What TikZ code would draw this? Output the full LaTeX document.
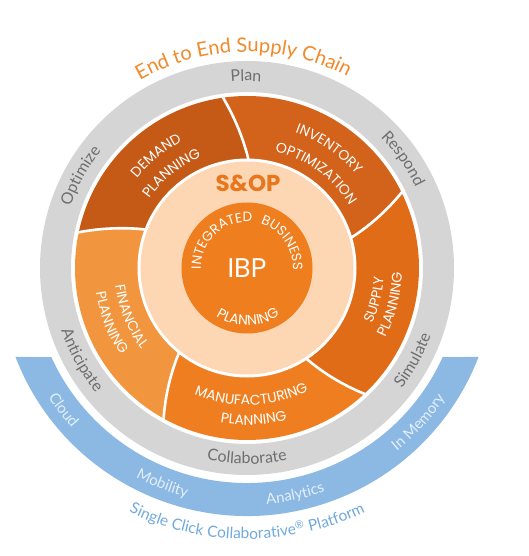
\documentclass[tikz,border=0pt]{standalone}
\usepackage{fontspec}
\setmainfont{Lato}
\newfontfamily\pop{Poppins}
\usetikzlibrary{decorations.text}
\definecolor{greyring}{HTML}{D5D5D5}
\definecolor{greytxt}{HTML}{6E6E6E}
\definecolor{demandc}{HTML}{C55A17}
\definecolor{invc}{HTML}{D3621A}
\definecolor{supplyc}{HTML}{E06C18}
\definecolor{manufc}{HTML}{EE7E1F}
\definecolor{finc}{HTML}{F1963F}
\definecolor{peach}{HTML}{FDD6B3}
\definecolor{ibpc}{HTML}{EE7E1E}
\definecolor{sopc}{HTML}{E8761D}
\definecolor{e2ec}{HTML}{F08A2B}
\definecolor{bandc}{HTML}{8BB9E3}
\definecolor{bandtxt}{HTML}{E4EFFA}
\definecolor{platc}{HTML}{70A9DD}
\newcommand\myfs[1]{\fontsize{#1}{#1}\selectfont}
\newcommand\cwtext[6]{%
  \path[decorate,decoration={text along path,text align=center,text color=#1,text={|#2|#6}}]
    ({#3+#5}:#4pt) arc[start angle={#3+#5}, end angle={#3-#5}, radius=#4pt];}
\newcommand\ccwtext[6]{%
  \path[decorate,decoration={text along path,text align=center,text color=#1,text={|#2|#6}}]
    ({#3-#5}:#4pt) arc[start angle={#3-#5}, end angle={#3+#5}, radius=#4pt];}
\newcommand\seg[5]{%
  \fill[#1] plot[variable=\t,domain=0:1,samples=12] ({#2+#3*\t}:{107+65*\t})
    arc[start angle={#2+#3}, end angle={#4+#5}, radius=172pt]
    -- plot[variable=\t,domain=0:1,samples=12] ({#4+#5-#5*\t}:{172-65*\t})
    -- (0,0) -- cycle;}
\begin{document}
\begin{tikzpicture}[x=1pt,y=1pt]
\useasboundingbox (-247,-288) rectangle (282,268);
% platform band
\fill[bandc] (201:248pt) arc[start angle=201,end angle=339,radius=248pt]
  -- (335.5:215pt) arc[start angle=335.5,end angle=204.5,radius=215pt] -- cycle;
% grey ring
\fill[greyring, even odd rule] (0,0) circle[radius=207pt] (0,0) circle[radius=176pt];
% segments
\seg{supplyc}{-57}{10}{16}{10}
\seg{invc}{16}{10}{89}{9}
\seg{demandc}{89}{9}{159}{9}
\seg{finc}{159}{9}{231}{10}
\seg{manufc}{231}{10}{303}{10}
\foreach \a/\d in {-57/10,16/10,89/9,159/9,231/10}
  \draw[white,line width=2.6pt] plot[variable=\t,domain=-0.15:1.04,samples=14] ({\a+\d*\t}:{107+65*\t});
% S&OP ring and IBP core
\fill[white] (0,0) circle[radius=109.5pt];
\fill[peach] (0,0) circle[radius=106.5pt];
\fill[ibpc] (0,0) circle[radius=65.5pt];
\node[font=\pop\myfs{27}, text=white, inner sep=0] (ibp) at (0,0) {IBP};
\node[font=\pop\bfseries\myfs{23}, text=sopc, inner sep=0] (sop) at (1,85) {S\&OP};
\cwtext{white}{\pop\myfs{13.5}}{132.5}{46}{80}{INTEGRATED}
\cwtext{white}{\pop\myfs{13.5}}{35}{46}{80}{BUSINESS}
\ccwtext{white}{\pop\myfs{14}}{-89}{57.5}{70}{PLANNING}
% segment labels
\cwtext{white}{\pop\myfs{14}}{129}{142}{40}{DEMAND}
\cwtext{white}{\pop\myfs{14}}{128.5}{120}{40}{PLANNING}
\cwtext{white}{\pop\myfs{14}}{55.5}{144}{40}{INVENTORY}
\cwtext{white}{\pop\myfs{14}}{54}{120}{45}{OPTIMIZATION}
\ccwtext{white}{\pop\myfs{14}}{-14}{137}{40}{SUPPLY}
\ccwtext{white}{\pop\myfs{14}}{-14.3}{155}{40}{PLANNING}
\ccwtext{white}{\pop\myfs{14}}{-88}{137}{40}{MANUFACTURING}
\ccwtext{white}{\pop\myfs{14}}{-87.5}{157}{40}{PLANNING}
\ccwtext{white}{\pop\myfs{14}}{202.5}{133}{40}{FINANCIAL}
\ccwtext{white}{\pop\myfs{14}}{202}{153}{40}{PLANNING}
% grey ring words
\cwtext{greytxt}{\myfs{16}}{90.3}{187}{40}{Plan}
\cwtext{greytxt}{\myfs{16}}{151}{187}{40}{Optimize}
\cwtext{greytxt}{\myfs{16}}{35}{187}{40}{Respond}
\ccwtext{greytxt}{\myfs{16}}{-90}{196}{40}{Collaborate}
\ccwtext{greytxt}{\myfs{16}}{209}{196}{40}{Anticipate}
\ccwtext{greytxt}{\myfs{16}}{-29}{196}{40}{Simulate}
% title
\cwtext{e2ec}{\myfs{20}}{91}{216}{60}{End to End Supply Chain}
% band words
\ccwtext{bandtxt}{\myfs{15}}{217.7}{237}{20}{Cloud}
\ccwtext{bandtxt}{\myfs{15}}{248.6}{237}{20}{Mobility}
\ccwtext{bandtxt}{\myfs{15}}{282}{237}{20}{Analytics}
\ccwtext{bandtxt}{\myfs{15}}{318}{237}{20}{In Memory}
\ccwtext{platc}{\myfs{15.5}}{270}{271}{40}{Single Click Collaborative{\textsuperscript{®}} Platform}
\end{tikzpicture}
\end{document}
